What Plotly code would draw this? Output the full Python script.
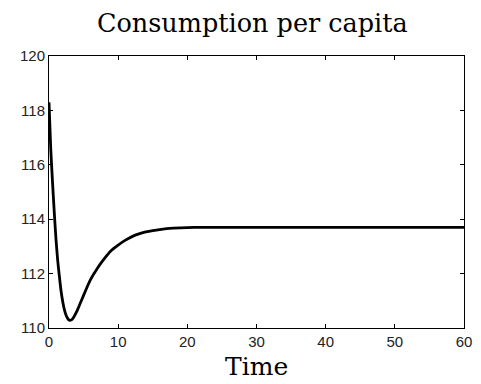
import plotly.graph_objects as go

# Time path of consumption per capita after the shock
time = [0, 0.25, 0.5, 0.75, 1.0, 1.25, 1.5, 1.75, 2.0, 2.25, 2.5, 2.75, 3.0, 3.25, 3.5,
        4.0, 4.5, 5.0, 5.5, 6.0, 7.0, 8.0, 9.0, 10.0, 11.0, 12.0, 13.0, 14.0, 15.0,
        16.0, 17.0, 18.0, 20.0, 22.0, 25.0, 30.0, 40.0, 50.0, 60.0]
consumption = [118.3, 116.6, 115.4, 114.3, 113.3, 112.5, 111.9, 111.35, 110.95, 110.65, 110.45,
               110.33, 110.28, 110.3, 110.37, 110.6, 110.9, 111.2, 111.5, 111.78, 112.2, 112.55,
               112.85, 113.05, 113.22, 113.36, 113.46, 113.53, 113.58, 113.62, 113.65, 113.67,
               113.69, 113.7, 113.7, 113.7, 113.7, 113.7, 113.7]

x_ticks = [0, 10, 20, 30, 40, 50, 60]
y_ticks = [110, 112, 114, 116, 118, 120]

fig = go.Figure()
fig.add_trace(go.Scatter(
    x=time, y=consumption, mode="lines",
    line=dict(color="black", width=2.8, shape="spline", smoothing=0.6),
    showlegend=False, hoverinfo="skip",
))

axis_style = dict(
    showgrid=False, zeroline=False, showline=True, linecolor="black", linewidth=1,
    mirror="ticks", ticks="inside", ticklen=4, tickcolor="black", tickwidth=1,
    tickfont=dict(family="Liberation Sans Narrow, Liberation Sans, Arial, sans-serif",
                  size=15, color="#222"),
)

fig.update_xaxes(range=[0, 60], tickvals=x_ticks, ticktext=[str(v) for v in x_ticks], **axis_style)
fig.update_yaxes(range=[110, 120], tickvals=y_ticks, ticktext=[str(v) for v in y_ticks], **axis_style)

fig.update_layout(
    width=481, height=384,
    margin=dict(l=49, r=9, t=56, b=56),
    paper_bgcolor="white", plot_bgcolor="white",
    title=dict(text="Consumption per capita", xref="paper", x=0.49, xanchor="center",
               y=1 - 23 / 384, yanchor="middle",
               font=dict(family="DejaVu Serif, serif", size=25.5, color="black")),
    annotations=[dict(text="Time", xref="paper", yref="paper", x=0.5, y=-0.14,
                      xanchor="center", yanchor="middle", showarrow=False,
                      font=dict(family="DejaVu Serif, serif", size=25, color="black"))],
)

fig.write_html("out.html")
